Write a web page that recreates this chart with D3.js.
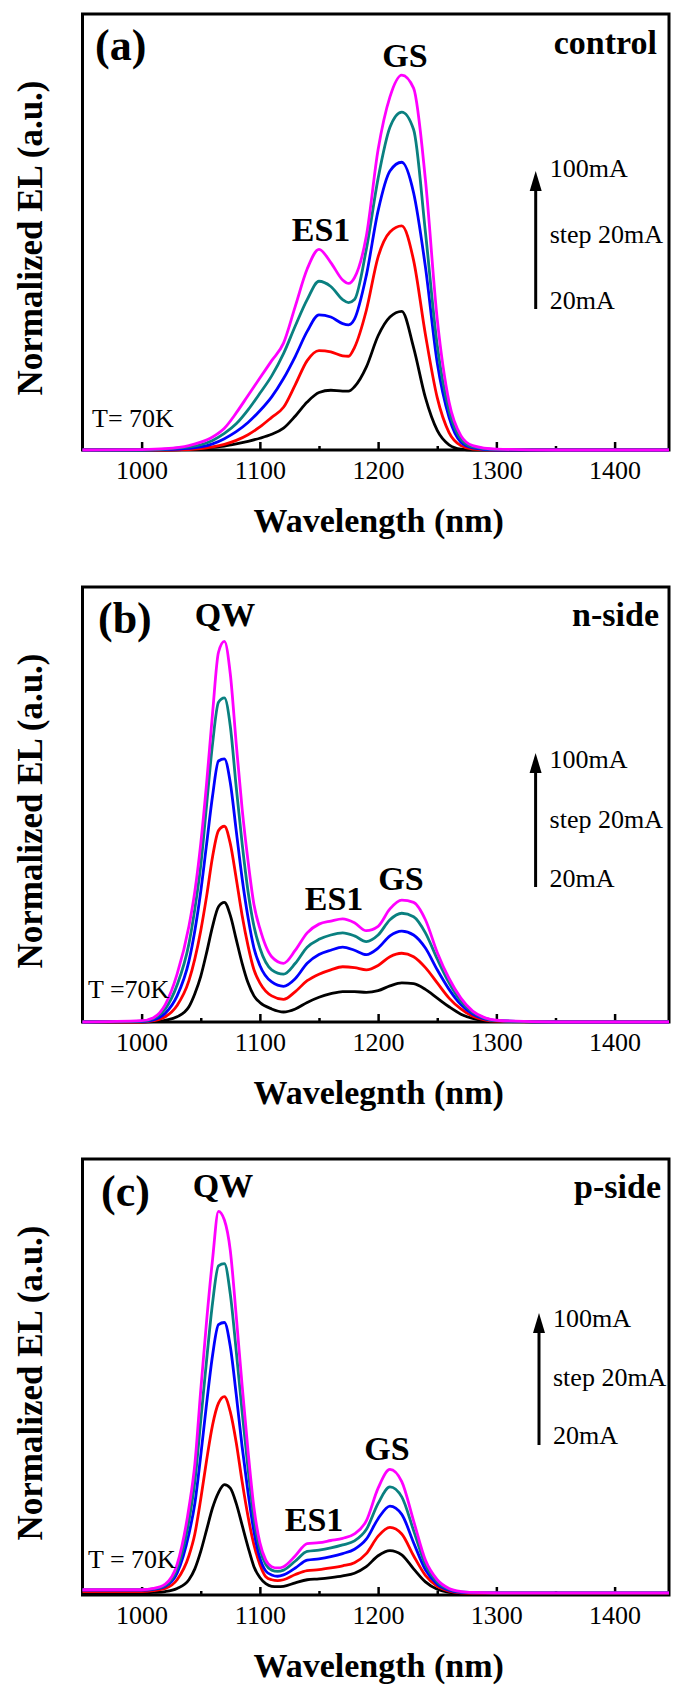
<!DOCTYPE html>
<head>
  <meta charset="utf-8">
  <script src="https://d3js.org/d3.v7.min.js"></script>
  <style>
    body { margin:0; background:#fff; }
    text { font-family: "Liberation Serif", "Times New Roman", serif; }
  </style>
</head>

<body>
  <script>

  // ---- data (normalized EL vs wavelength) ----
  var currents = ["20mA", "40mA", "60mA", "80mA", "100mA"];
  var lineColors = ["#000000", "#ff0000", "#0000ff", "#0a8080", "#ff00ff"];
  var xTicks = [1000, 1100, 1200, 1300, 1400];
  var xMinorTicks = [1050, 1150, 1250, 1350];

  // (a) control
  var wlA = [950, 1000, 1020, 1040, 1050, 1060, 1070, 1080, 1090, 1100, 1110, 1120, 1130, 1140, 1150, 1160, 1170, 1175, 1180, 1190, 1200, 1210, 1220, 1230, 1240, 1250, 1260, 1270, 1280, 1300, 1350, 1400, 1446];
  var control20  = [0, 0, 0, .002, .004, .006, .009, .014, .02, .027, .036, .05, .078, .11, .132, .137, .135, .135, .145, .19, .262, .305, .318, .235, .12, .045, .012, .002, 0, 0, 0, 0, 0];
  var control40  = [0, 0, 0, .001, .003, .007, .013, .022, .035, .053, .075, .098, .15, .205, .228, .225, .216, .215, .235, .32, .443, .5, .514, .435, .265, .12, .04, .01, .002, 0, 0, 0, 0];
  var control60  = [0, 0, .001, .004, .007, .014, .026, .042, .063, .09, .122, .164, .215, .272, .31, .305, .29, .287, .3, .4, .549, .64, .66, .59, .42, .2, .075, .018, .005, 0, 0, 0, 0];
  var control80  = [0, 0, .002, .007, .012, .022, .038, .06, .092, .13, .17, .221, .285, .345, .387, .375, .345, .338, .345, .46, .623, .74, .775, .735, .5, .24, .09, .025, .007, .001, 0, 0, 0];
  var control100 = [0, .001, .003, .01, .018, .03, .05, .085, .125, .165, .205, .245, .33, .415, .46, .43, .39, .382, .395, .49, .689, .81, .86, .83, .62, .3, .11, .033, .01, .002, 0, 0, 0];

  // (b) n-side
  var wlB = [950, 1000, 1010, 1020, 1030, 1040, 1045, 1050, 1055, 1060, 1065, 1070, 1075, 1080, 1085, 1090, 1095, 1100, 1110, 1120, 1130, 1140, 1150, 1160, 1170, 1180, 1190, 1200, 1210, 1220, 1230, 1240, 1250, 1260, 1270, 1280, 1290, 1300, 1350, 1400, 1446];
  var nside20  = [0, 0, .001, .004, .012, .035, .065, .105, .16, .22, .265, .275, .245, .19, .135, .09, .06, .045, .03, .023, .03, .045, .057, .065, .07, .07, .068, .072, .083, .09, .088, .075, .055, .035, .018, .008, .003, .001, 0, 0, 0];
  var nside40  = [0, 0, .003, .012, .038, .095, .145, .21, .29, .38, .44, .45, .41, .33, .245, .175, .12, .09, .06, .052, .07, .095, .11, .12, .127, .125, .12, .13, .15, .158, .15, .125, .09, .055, .03, .013, .005, .002, 0, 0, 0];
  var nside60  = [0, .001, .005, .02, .06, .14, .21, .3, .41, .52, .6, .605, .55, .44, .33, .24, .17, .13, .092, .082, .1, .135, .155, .165, .172, .165, .155, .17, .198, .209, .2, .17, .12, .075, .04, .018, .007, .003, 0, 0, 0];
  var nside80  = [0, .002, .008, .03, .085, .18, .26, .36, .5, .64, .735, .745, .68, .54, .41, .3, .22, .17, .12, .11, .135, .172, .19, .2, .205, .198, .185, .2, .235, .25, .242, .205, .145, .09, .048, .022, .009, .003, 0, 0, 0];
  var nside100 = [0, .003, .01, .04, .11, .22, .3, .41, .55, .71, .85, .875, .8, .64, .49, .37, .27, .215, .15, .135, .165, .205, .225, .232, .237, .228, .21, .22, .26, .28, .275, .235, .16, .1, .055, .025, .01, .004, 0, 0, 0];

  // (c) p-side
  var wlC = [950, 1000, 1010, 1020, 1030, 1040, 1045, 1050, 1055, 1060, 1065, 1070, 1075, 1080, 1085, 1090, 1095, 1100, 1105, 1110, 1115, 1120, 1130, 1140, 1150, 1160, 1170, 1180, 1190, 1200, 1210, 1220, 1230, 1240, 1250, 1260, 1270, 1280, 1300, 1350, 1400, 1446];
  var pside20  = [.005, .005, .006, .008, .015, .035, .06, .1, .15, .2, .235, .253, .245, .21, .16, .11, .065, .04, .026, .02, .019, .02, .028, .035, .037, .04, .044, .05, .065, .09, .102, .092, .06, .03, .013, .006, .004, .003, .003, .003, .003, .003];
  var pside40  = [.008, .008, .01, .015, .035, .09, .14, .22, .31, .39, .44, .455, .42, .35, .26, .18, .115, .07, .042, .035, .033, .035, .047, .056, .058, .062, .067, .074, .095, .135, .155, .14, .09, .045, .02, .009, .005, .004, .004, .004, .004, .004];
  var pside60  = [.011, .011, .013, .02, .05, .14, .21, .32, .44, .55, .62, .625, .57, .46, .34, .235, .145, .085, .055, .046, .043, .046, .062, .08, .083, .088, .095, .105, .128, .175, .204, .185, .12, .058, .025, .011, .006, .005, .005, .005, .005, .005];
  var pside80  = [.012, .012, .014, .022, .06, .17, .26, .4, .54, .67, .755, .76, .69, .56, .42, .29, .175, .105, .07, .057, .054, .057, .078, .1, .103, .108, .115, .124, .15, .21, .248, .225, .148, .07, .03, .013, .007, .006, .005, .005, .005, .005];
  var pside100 = [.012, .012, .015, .025, .07, .2, .3, .47, .63, .77, .88, .86, .79, .64, .48, .33, .2, .12, .08, .065, .062, .065, .09, .118, .12, .125, .13, .14, .17, .245, .288, .26, .17, .08, .035, .015, .008, .006, .005, .005, .005, .005];

  var width = 673, height = 1685;
  var plotLeft = 82.5, plotRight = 669;

  var svg = d3.select("body").append("svg")
    .attr("width", width)
    .attr("height", height);

  var xScale = d3.scaleLinear()
    .domain([950, 1446])
    .range([plotLeft, plotRight]);

  var panels = [
    { top: 14, bottom: 450, wl: wlA, series: [control20, control40, control60, control80, control100],
      letter: "(a)", letterX: 95, letterY: 46,
      tag: "control", tagY: 40, tagX: 657,
      title: "Wavelength (nm)",
      notes: [{t: "GS", x: 405, y: 53}, {t: "ES1", x: 321, y: 227}],
      temp: "T= 70K", tempX: 92, tempY: 413,
      arrowX: 535.7, arrowTop: 157, arrowBottom: 295, labY: [163, 229, 295] },
    { top: 587, bottom: 1022, wl: wlB, series: [nside20, nside40, nside60, nside80, nside100],
      letter: "(b)", letterX: 98, letterY: 46,
      tag: "n-side", tagY: 39, tagX: 659,
      title: "Wavelegnth (nm)",
      notes: [{t: "QW", x: 225, y: 39}, {t: "ES1", x: 334, y: 323}, {t: "GS", x: 401, y: 303}],
      temp: "T =70K", tempX: 88, tempY: 411,
      arrowX: 535.6, arrowTop: 166, arrowBottom: 300, labY: [181, 241, 300] },
    { top: 1159, bottom: 1595, wl: wlC, series: [pside20, pside40, pside60, pside80, pside100],
      letter: "(c)", letterX: 101, letterY: 47,
      tag: "p-side", tagY: 39, tagX: 661,
      title: "Wavelength (nm)",
      notes: [{t: "QW", x: 223, y: 38}, {t: "ES1", x: 314, y: 372}, {t: "GS", x: 387, y: 301}],
      temp: "T = 70K", tempX: 88, tempY: 409,
      arrowX: 539, arrowTop: 154, arrowBottom: 286, labY: [168, 227, 285] }
  ];

  panels.forEach(function(p) {
    var yScale = d3.scaleLinear()
      .domain([0, 1])
      .range([p.bottom, p.top]);

    var g = svg.append("g");

    // frame
    g.append("rect")
      .attr("x", plotLeft)
      .attr("y", p.top)
      .attr("width", plotRight - plotLeft)
      .attr("height", p.bottom - p.top)
      .attr("fill", "none")
      .attr("stroke", "#000")
      .attr("stroke-width", 3);

    // bottom axis, ticks pointing inward
    var axisG = g.append("g")
      .attr("transform", "translate(0," + p.bottom + ")")
      .call(d3.axisBottom(xScale).tickValues(xTicks).tickSize(-8).tickSizeOuter(0).tickFormat(d3.format("d")));
    axisG.select(".domain").remove();
    axisG.selectAll("line").attr("stroke-width", 2.5);
    axisG.selectAll("text")
      .attr("y", 29)
      .attr("dy", null)
      .attr("fill", "#000")
      .style("font-family", '"Liberation Serif", serif')
      .style("font-size", "26px");

    var minorG = g.append("g")
      .attr("transform", "translate(0," + p.bottom + ")")
      .call(d3.axisBottom(xScale).tickValues(xMinorTicks).tickSize(-4).tickSizeOuter(0).tickFormat(""));
    minorG.select(".domain").remove();
    minorG.selectAll("line").attr("stroke-width", 2.5);

    // spectra
    var line = d3.line()
      .x(function(d, i) { return xScale(p.wl[i]); })
      .y(function(d) { return yScale(d); })
      .curve(d3.curveMonotoneX);

    p.series.forEach(function(s, i) {
      g.append("path")
        .datum(s)
        .attr("d", line)
        .attr("fill", "none")
        .attr("stroke", lineColors[i])
        .attr("stroke-width", 2.8)
        .attr("stroke-linejoin", "round");
    });

    // axis titles
    g.append("text")
      .attr("x", (plotLeft + plotRight) / 2 + 3)
      .attr("y", p.bottom + 82)
      .attr("text-anchor", "middle")
      .style("font-size", "34px")
      .style("font-weight", "bold")
      .text(p.title);

    g.append("text")
      .attr("transform", "translate(42," + (p.top + 224) + ") rotate(-90)")
      .attr("text-anchor", "middle")
      .style("font-size", "35px")
      .style("font-weight", "bold")
      .text("Normalized EL (a.u.)");

    // annotations
    g.append("text")
      .attr("x", p.letterX)
      .attr("y", p.top + p.letterY)
      .style("font-size", "44px")
      .style("font-weight", "bold")
      .text(p.letter);

    g.append("text")
      .attr("x", p.tagX)
      .attr("y", p.top + p.tagY)
      .attr("text-anchor", "end")
      .style("font-size", "34px")
      .style("font-weight", "bold")
      .text(p.tag);

    p.notes.forEach(function(n) {
      g.append("text")
        .attr("x", n.x)
        .attr("y", p.top + n.y)
        .attr("text-anchor", "middle")
        .style("font-size", "34px")
        .style("font-weight", "bold")
        .text(n.t);
    });

    g.append("text")
      .attr("x", p.tempX)
      .attr("y", p.top + p.tempY)
      .style("font-size", "26px")
      .text(p.temp);

    // current arrow
    g.append("line")
      .attr("x1", p.arrowX).attr("x2", p.arrowX)
      .attr("y1", p.top + p.arrowBottom)
      .attr("y2", p.top + p.arrowTop + 16)
      .attr("stroke", "#000")
      .attr("stroke-width", 3);
    g.append("path")
      .attr("d", "M" + p.arrowX + "," + (p.top + p.arrowTop) +
                 "L" + (p.arrowX + 6) + "," + (p.top + p.arrowTop + 20) +
                 "L" + (p.arrowX - 6) + "," + (p.top + p.arrowTop + 20) + "Z")
      .attr("fill", "#000");

    var labs = [currents[4], "step 20mA", currents[0]];
    labs.forEach(function(t, i) {
      g.append("text")
        .attr("x", p.arrowX + 14)
        .attr("y", p.top + p.labY[i])
        .style("font-size", "26px")
        .text(t);
    });
  });

  </script>
</body>
